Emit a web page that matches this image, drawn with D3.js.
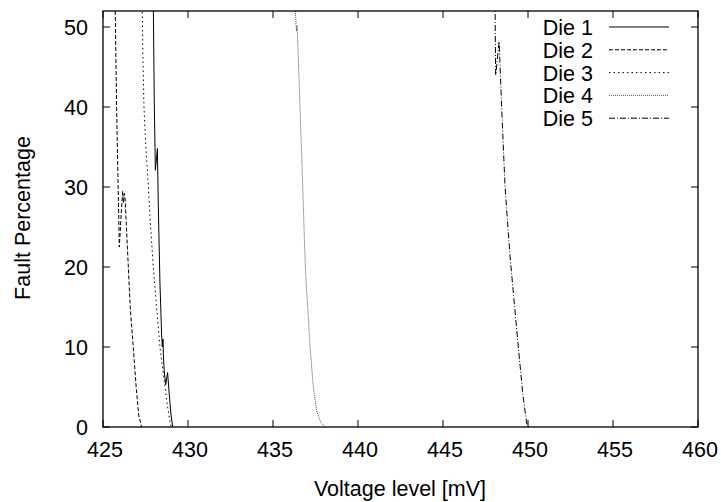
<!DOCTYPE html>
<html><head><meta charset="utf-8">
<script src="https://cdn.jsdelivr.net/npm/d3@7"></script>
<style>body{margin:0;background:#fff}svg{display:block}text{font-family:"Liberation Sans",Arial,Helvetica,sans-serif;fill:#000}</style>
</head><body><svg id="c" width="721" height="502"></svg>
<script>
const dieNames = ["Die 1","Die 2","Die 3","Die 4","Die 5"];
const die1V = [427.96,428.02,428.08,428.2,428.25,428.35,428.45,428.49,428.53,428.55,428.6,428.69,428.8,428.9,429.0,429.1];
const die1P = [53,40,32.1,34.8,28,18,11.5,10,11,9,7,5.3,6.8,4,1.5,0];
const die2V = [425.7,425.8,425.96,426.08,426.16,426.2,426.26,426.3,426.4,426.49,426.6,426.78,426.95,427.1,427.27];
const die2P = [55,40,22.5,27,29.5,28,29.2,28.5,24,20,15,10,5,1.5,0];
const die3V = [427.3,427.35,427.41,427.52,427.67,427.8,427.96,428.15,428.35,428.5,428.65,428.8,429.0];
const die3P = [53,46,40,35,30,25,20,15,10,7.5,5,2.5,0];
const die4V = [436.3,436.35,436.38,436.42,436.45,436.59,436.75,436.9,437.18,437.37,437.57,437.8,438.06];
const die4P = [53,50.5,49.5,50.2,48.5,40,30,20,10,5,2,0.6,0];
const die5V = [448.06,448.08,448.1,448.2,448.3,448.45,448.65,448.92,449.0,449.43,449.7,449.92,450.05];
const die5P = [53,48,44,46,48.2,40,30,22,20,10,4,0.5,0];
const xTicks = [425,430,435,440,445,450,455,460];
const yTicks = [0,10,20,30,40,50];

const series = [
  {name:dieNames[0], v:die1V, p:die1P, dash:null, color:"#000"},
  {name:dieNames[1], v:die2V, p:die2P, dash:"4,2", color:"#000"},
  {name:dieNames[2], v:die3V, p:die3P, dash:"1.5,3", color:"#000"},
  {name:dieNames[3], v:die4V, p:die4P, dash:"1,1", color:"#555"},
  {name:dieNames[4], v:die5V, p:die5P, dash:"6,2,1,2", color:"#000"}
];

const FS=21.5;
const L=103,R=698,T=11,B=427;
const svg=d3.select("#c");
const x=d3.scaleLinear().domain([425,460]).range([L,R]);
const y=d3.scaleLinear().domain([0,52]).range([B,T]);

svg.append("clipPath").attr("id","clip").append("rect").attr("x",L).attr("y",T).attr("width",R-L).attr("height",B-T);

const tl=7;
const g=svg.append("g").attr("stroke","#000").attr("stroke-width",1);
xTicks.forEach(t=>{
  g.append("line").attr("x1",x(t)).attr("x2",x(t)).attr("y1",B).attr("y2",B-tl);
  g.append("line").attr("x1",x(t)).attr("x2",x(t)).attr("y1",T).attr("y2",T+tl);
});
yTicks.forEach(t=>{
  g.append("line").attr("x1",L).attr("x2",L+tl).attr("y1",y(t)).attr("y2",y(t));
  g.append("line").attr("x1",R).attr("x2",R-tl).attr("y1",y(t)).attr("y2",y(t));
});
svg.selectAll(".xt").data(xTicks).enter().append("text").attr("x",d=>x(d)+2).attr("y",B+30)
  .attr("text-anchor","middle").attr("font-size",FS).text(d=>d);
svg.selectAll(".yt").data(yTicks).enter().append("text").attr("x",L-15).attr("y",d=>y(d)+8)
  .attr("text-anchor","end").attr("font-size",FS).text(d=>d);

svg.append("text").attr("x",400).attr("y",496).attr("text-anchor","middle").attr("font-size",FS).text("Voltage level [mV]");
svg.append("text").attr("transform",`translate(30,218) rotate(-90)`).attr("text-anchor","middle").attr("font-size",FS).text("Fault Percentage");

const line=d3.line().x(d=>x(d[0])).y(d=>y(d[1]));
const plot=svg.append("g").attr("clip-path","url(#clip)");
series.forEach(s=>{
  const pts=s.v.map((v,i)=>[v,s.p[i]]);
  plot.append("path").attr("d",line(pts)).attr("fill","none").attr("stroke",s.color)
    .attr("stroke-width",1).attr("stroke-dasharray",s.dash);
});

series.forEach((s,i)=>{
  const yy=27+i*22.8;
  svg.append("text").attr("x",593).attr("y",yy+8).attr("text-anchor","end").attr("font-size",FS).text(s.name);
  svg.append("line").attr("x1",609).attr("x2",669).attr("y1",yy).attr("y2",yy)
    .attr("stroke",s.color).attr("stroke-width",1).attr("stroke-dasharray",s.dash);
});

svg.append("rect").attr("x",L).attr("y",T).attr("width",R-L).attr("height",B-T)
  .attr("fill","none").attr("stroke","#000").attr("stroke-width",1.3);
</script></body></html>
